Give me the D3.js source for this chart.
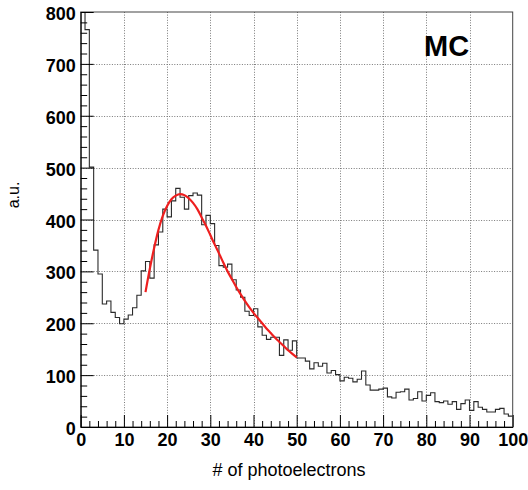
<!DOCTYPE html>
<html>
<head>
<meta charset="utf-8">
<script src="https://cdn.jsdelivr.net/npm/d3@7"></script>
<style>
  html, body { margin: 0; padding: 0; background: #fff; }
  svg { display: block; }
  text { font-family: "Liberation Sans", Arial, Helvetica, sans-serif; }
</style>
</head>
<body>
<svg id="chart" width="528" height="490"></svg>
<script>
// ---- data ----
const binEdgesLow = d3.range(0, 100); // lower edges of 1-unit bins, 0..99
const binCounts = [
  980, 766, 501, 341, 295, 237, 243, 221, 211, 199,
  208, 216, 230, 254, 301, 319, 287, 351, 376, 420,
  405, 436, 460, 443, 420, 446, 451, 447, 390, 408,
  392, 350, 311, 308, 314, 284, 264, 250, 223, 215,
  228, 193, 177, 169, 173, 173, 138, 168, 148, 166,
  133, 133, 127, 112, 124, 117, 123, 104, 109, 101,
   89,  96,  94,  87,  92, 108,  81,  71,  71,  73,
   75,  58,  56,  67,  68,  73,  52,  55,  68,  50,
   61,  66,  49,  47,  50,  44,  49,  34,  45,  52,
   32,  49,  38,  34,  29,  29,  34,  36,  25,  21
];
const fitX = [15, 16, 17, 18, 19, 20, 21, 22, 23, 24, 25, 26, 27, 28, 29, 30, 31, 32, 33, 34, 35, 36, 37, 38, 39, 40, 41, 42, 43, 44, 45, 46, 47, 48, 49, 50];
const fitY = [260, 305, 345, 380, 407, 426, 439, 446, 449, 447, 441, 432, 420, 404, 388, 370, 352, 335, 317, 300, 285, 270, 256, 243, 231, 220, 210, 200, 190, 181, 172, 164, 156, 148, 141, 134];
const xTicks = [0, 10, 20, 30, 40, 50, 60, 70, 80, 90, 100];
const yTicks = [0, 100, 200, 300, 400, 500, 600, 700, 800];
const xTitle = "# of photoelectrons";
const yTitle = "a.u.";
const label = "MC";

// ---- layout ----
const L = 80.7, R = 512.7, T = 12, B = 427;
const svg = d3.select("#chart");
const x = d3.scaleLinear().domain([0, 100]).range([L, R]);
const y = d3.scaleLinear().domain([0, 800]).range([B, T]);

// grid
const grid = svg.append("g").attr("stroke", "#7a7a7a").attr("stroke-width", 1).attr("stroke-dasharray", "1,1.6");
grid.selectAll("line.gx").data(xTicks.slice(1, -1)).join("line")
  .attr("x1", d => Math.round(x(d)) + 0.5).attr("x2", d => Math.round(x(d)) + 0.5)
  .attr("y1", T).attr("y2", B);
grid.selectAll("line.gy").data(yTicks.slice(1, -1)).join("line")
  .attr("y1", d => Math.round(y(d)) + 0.5).attr("y2", d => Math.round(y(d)) + 0.5)
  .attr("x1", L).attr("x2", R);

// clip
svg.append("clipPath").attr("id", "plotclip").append("rect")
  .attr("x", L).attr("y", T).attr("width", R - L).attr("height", B - T);

// histogram step outline
const histPts = [];
binEdgesLow.forEach((lo, i) => {
  histPts.push([lo, binCounts[i]]);
  histPts.push([lo + 1, binCounts[i]]);
});
const stepLine = d3.line().x(d => x(d[0])).y(d => y(d[1]));
svg.append("path")
  .attr("clip-path", "url(#plotclip)")
  .attr("d", stepLine(histPts))
  .attr("fill", "none")
  .attr("stroke", "#2a2a2a")
  .attr("stroke-width", 1.1);

// fit curve
const fitLine = d3.line().x((d, i) => x(fitX[i])).y(d => y(d)).curve(d3.curveMonotoneX);
svg.append("path")
  .attr("d", fitLine(fitY))
  .attr("fill", "none")
  .attr("stroke", "#ee1f1f")
  .attr("stroke-width", 2.2);

// frame
svg.append("rect")
  .attr("x", L).attr("y", T).attr("width", R - L).attr("height", B - T)
  .attr("fill", "none").attr("stroke", "#444").attr("stroke-width", 1);

// axes
const fontAxis = 18;
const yAxis = d3.axisLeft(y).tickValues(yTicks).tickSizeInner(-13).tickSizeOuter(0).tickPadding(5);
const gy = svg.append("g").attr("transform", `translate(${L},0)`).call(yAxis);
gy.select(".domain").attr("stroke", "#000");
gy.selectAll(".tick line").attr("stroke", "#000");
gy.selectAll("text").attr("font-size", fontAxis).attr("font-weight", "bold").attr("fill", "#000").attr("dy", "0.42em")
  .attr("font-family", '"Liberation Sans", Arial, Helvetica, sans-serif');

const yMinor = d3.axisLeft(y).tickValues(d3.range(0, 801, 20).filter(v => v % 100 !== 0)).tickSizeInner(-6.5).tickSizeOuter(0).tickFormat("");
const gym = svg.append("g").attr("transform", `translate(${L},0)`).call(yMinor);
gym.select(".domain").remove();
gym.selectAll(".tick line").attr("stroke", "#000");

const xAxis = d3.axisBottom(x).tickValues(xTicks).tickSizeInner(-12).tickSizeOuter(0).tickPadding(6);
const gx = svg.append("g").attr("transform", `translate(0,${B})`).call(xAxis);
gx.select(".domain").attr("stroke", "#000");
gx.selectAll(".tick line").attr("stroke", "#000");
gx.selectAll("text").attr("font-size", fontAxis).attr("font-weight", "bold").attr("fill", "#000")
  .attr("font-family", '"Liberation Sans", Arial, Helvetica, sans-serif');

const xMinor = d3.axisBottom(x).tickValues(d3.range(0, 101, 2).filter(v => v % 10 !== 0)).tickSizeInner(-6).tickSizeOuter(0).tickFormat("");
const gxm = svg.append("g").attr("transform", `translate(0,${B})`).call(xMinor);
gxm.select(".domain").remove();
gxm.selectAll(".tick line").attr("stroke", "#000");

// titles
svg.append("text")
  .attr("x", 289).attr("y", 476)
  .attr("text-anchor", "middle")
  .attr("font-size", 18)
  .attr("fill", "#000")
  .text(xTitle);

svg.append("text")
  .attr("transform", "translate(18.5,195) rotate(-90)")
  .attr("text-anchor", "middle")
  .attr("font-size", 16)
  .attr("fill", "#000")
  .text(yTitle);

svg.append("text")
  .attr("x", 424).attr("y", 56)
  .attr("font-size", 29)
  .attr("font-weight", "bold")
  .attr("fill", "#000")
  .text(label);
</script>
</body>
</html>
